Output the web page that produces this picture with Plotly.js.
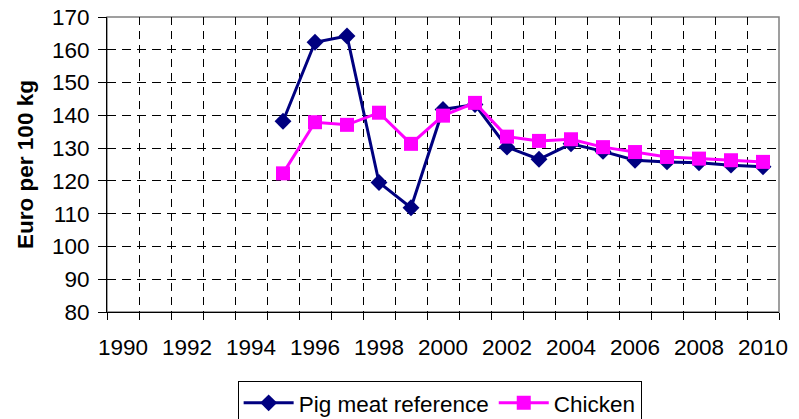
<!DOCTYPE html>
<html>
<head>
<meta charset="utf-8">
<script src="https://cdn.plot.ly/plotly-3.0.1.min.js"></script>
<style>html,body{margin:0;padding:0;background:#fff;}#chart{width:799px;height:419px;}</style>
</head>
<body>
<div id="chart"></div>
<script>
const years = [1995,1996,1997,1998,1999,2000,2001,2002,2003,2004,2005,2006,2007,2008,2009,2010];
const pigMeat = [138.2,162.3,164.2,119.5,111.8,141.8,143.3,130.3,126.6,131.3,129.0,126.3,125.8,125.5,124.8,124.3];
const chicken = [122.3,137.9,137.1,140.8,131.3,139.9,143.8,133.5,132.2,132.7,130.3,128.8,127.3,126.8,126.3,125.8];
const xTickVals = [1990,1992,1994,1996,1998,2000,2002,2004,2006,2008,2010];
const xTickText = ['1990','1992','1994','1996','1998','2000','2002','2004','2006','2008','2010'];
const yTickVals = [80,90,100,110,120,130,140,150,160,170];

const FONT = 'Liberation Sans, Arial, sans-serif';

const traces = [
  {x: years, y: pigMeat, name: 'Pig meat reference', type: 'scatter', mode: 'lines+markers',
   line: {color: '#000080', width: 3}, marker: {symbol: 'diamond', size: 13, color: '#000080'}},
  {x: years, y: chicken, name: 'Chicken', type: 'scatter', mode: 'lines+markers',
   line: {color: '#FF00FF', width: 3}, marker: {symbol: 'square', size: 14, color: '#FF00FF'}}
];

const layout = {
  width: 799, height: 419,
  margin: {l: 107, r: 20, t: 17, b: 107, autoexpand: false},
  paper_bgcolor: '#fff', plot_bgcolor: '#fff',
  font: {family: FONT, size: 22, color: '#000'},
  showlegend: true,
  legend: {orientation: 'h', x: 0.495, xanchor: 'center', y: -0.233, yanchor: 'top',
           bordercolor: '#000', borderwidth: 1, font: {family: FONT, size: 22.5, color: '#000'},
           itemwidth: 50, tracegroupgap: 0},
  xaxis: {
    range: [1989.5, 2010.5], tickmode: 'array', tickvals: xTickVals, ticktext: xTickText,
    ticks: '', showgrid: false, zeroline: false,
    showline: true, linecolor: '#000', linewidth: 1,
    tickfont: {family: FONT, size: 22.5, color: '#000'},
    ticklabelstandoff: 15,
    minor: {tick0: 1989.5, dtick: 1, ticks: 'outside', ticklen: 7, tickcolor: '#000', tickwidth: 1,
            showgrid: true, gridcolor: '#000', gridwidth: 1, griddash: '8px,6px'}
  },
  yaxis: {
    range: [80, 170], tickmode: 'array', tickvals: yTickVals,
    ticks: 'outside', ticklen: 8, tickcolor: '#000', tickwidth: 1,
    showgrid: true, gridcolor: '#000', gridwidth: 1, griddash: '9px,6px',
    zeroline: false, showline: true, linecolor: '#000', linewidth: 1,
    tickfont: {family: FONT, size: 22.5, color: '#000'},
    ticklabelstandoff: 4,
    title: {text: '<b>Euro per 100 kg</b>', font: {family: FONT, size: 22.5, color: '#000'}, standoff: 12}
  },
  shapes: [
    {type: 'rect', xref: 'paper', yref: 'paper', x0: 0, x1: 1, y0: 0, y1: 1,
     line: {color: '#808080', width: 1.5}, layer: 'below'}
  ]
};

Plotly.newPlot('chart', traces, layout, {displayModeBar: false, staticPlot: true});
</script>
</body>
</html>
